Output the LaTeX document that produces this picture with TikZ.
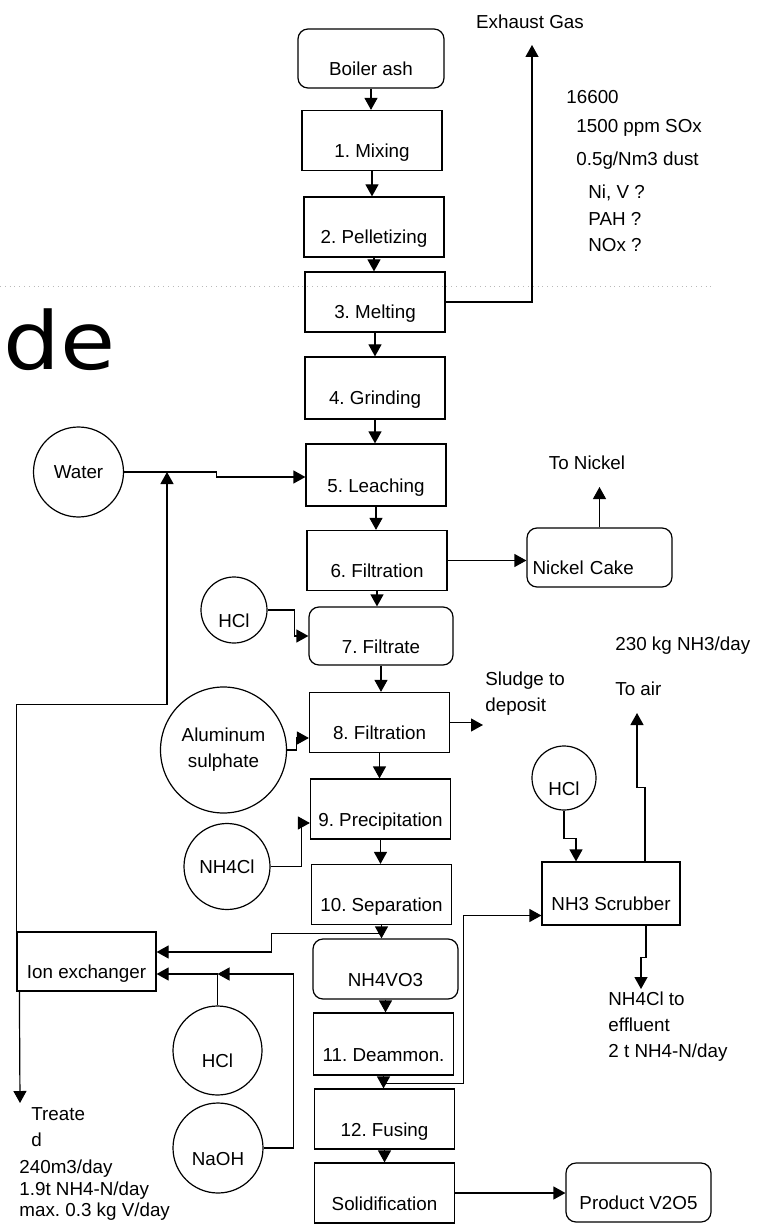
\documentclass[tikz,border=0pt]{standalone}
\usepackage{fontspec}
\setmainfont{Liberation Sans}
\newfontfamily\titlefont{DejaVu Sans}
\usetikzlibrary{arrows.meta}
\tikzset{
  proc/.style={draw, line width=0.6pt, minimum width=70pt, minimum height=30pt,
               inner sep=0pt, text height=18pt, text depth=1pt},
  procr/.style={proc, rounded corners=5pt},
  feed/.style={draw, circle, line width=0.6pt, inner sep=0pt, align=center},
  feedlow/.style={feed, text height=18pt, text depth=1pt},
  flow/.style={-{Triangle[length=6pt,width=6.5pt]}, line width=0.6pt},
  pipe/.style={line width=0.6pt},
  note/.style={inner sep=0pt, align=left},
}
\begin{document}
\frenchspacing
\begin{tikzpicture}[x=0.5pt, y=-0.5pt, font=\fontsize{9.4}{13}\selectfont]
  \useasboundingbox (0,0) rectangle (764,1224);
  \draw[gray!55, dotted, line width=0.4pt] (0,286) -- (712,286);
  \node[note, anchor=base west, font=\titlefont\fontsize{40}{40}\selectfont] (de) at (3,370) {\scalebox{1.12}[1]{de}};

  \node[procr, minimum width=73pt, minimum height=29.5pt] (ash) at (371,58.5) {Boiler ash};
  \node[proc] (mix) at (372,140.5) {1. Mixing};
  \node[proc] (pel) at (374,227) {2. Pelletizing};
  \node[proc] (melt) at (375,302) {3. Melting};
  \node[proc, minimum height=31pt] (grind) at (375,388) {4. Grinding};
  \node[proc, minimum height=31pt] (leach) at (376,475) {5. Leaching};
  \node[proc] (filt6) at (377,560.5) {6. Filtration};
  \node[procr, minimum width=72pt, minimum height=29pt] (filtrate) at (381,636) {7. Filtrate};
  \node[proc] (filt8) at (379.5,722.5) {8. Filtration};
  \node[proc] (precip) at (380.5,809) {9. Precipitation};
  \node[proc] (sep) at (381.5,894.5) {10. Separation};
  \node[procr, minimum width=72.5pt] (vo3) at (385.5,969) {NH4VO3};
  \node[proc, minimum height=31pt] (deam) at (383.5,1044) {11. Deammon.};
  \node[proc] (fuse) at (384.5,1119) {12. Fusing};
  \node[proc] (solid) at (384.5,1193) {Solidification};

  \node[procr, minimum width=72.5pt, minimum height=29.5pt, text width=67pt, align=left] (nickel) at (599.5,557.5) {Nickel Cake};
  \node[proc, minimum width=69pt, minimum height=31.5pt] (scrub) at (611,893.5) {NH3 Scrubber};
  \node[procr, minimum width=72.5pt, minimum height=29.5pt] (product) at (638.5,1192.5) {Product V2O5};
  \node[proc, minimum width=69.5pt, minimum height=29.5pt] (ion) at (86.5,961.5) {Ion exchanger};

  \node[feed, minimum size=45pt] (water) at (78.5,472) {Water};
  \node[feedlow, minimum size=33pt] (hcla) at (234,610) {HCl};
  \node[feed, minimum size=63pt] (alum) at (223.5,750) {Aluminum\\sulphate};
  \node[feed, minimum size=43pt] (nhcl) at (227,866.5) {NH4Cl};
  \node[feedlow, minimum size=32pt] (hclb) at (564,778) {HCl};
  \node[feedlow, minimum size=44.5pt] (hclc) at (217.5,1050.5) {HCl};
  \node[feedlow, minimum size=45pt] (naoh) at (218,1148) {NaOH};

  \node[note] (gas) at (530,22) {Exhaust Gas};
  \node[note, anchor=west] (gasvol) at (566,97) {16600};
  \node[note, anchor=west] (gasso) at (576,128) {1500 ppm SOx};
  \node[note, anchor=west] (gasdust) at (576,161) {0.5g/Nm3 dust};
  \node[note, anchor=west] (gasni) at (588,193) {Ni, V ?};
  \node[note, anchor=west] (gaspah) at (588,219) {PAH ?};
  \node[note, anchor=west] (gasnox) at (588,245) {NOx ?};
  \node[note] (nitxt) at (587,463) {To Nickel};
  \node[note, anchor=west] (sludgetxt) at (485,694) {Sludge to\\deposit};
  \node[note, anchor=west] (nh3txt) at (615,646) {230 kg NH3/day};
  \node[note, anchor=west] (airtxt) at (615,689) {To air};
  \node[note, anchor=west] (efftxt) at (608,1027) {NH4Cl to\\effluent\\2 t NH4-N/day};
  \node[note, anchor=west] (treattxt) at (31,1127.5) {Treate\\d};
  \node[note, anchor=west, font=\fontsize{9.4}{10.8}\selectfont] (treatdat) at (19,1190.5) {240m3/day\\1.9t NH4-N/day\\max. 0.3 kg V/day};

  \coordinate (gasout) at (532,45);
  \coordinate (niout) at (599.5,487);
  \coordinate (wjoin) at (167,472);
  \coordinate (sludgeout) at (483,725);
  \coordinate (airout) at (637,713);
  \coordinate (effout) at (641,989);
  \coordinate (treatout) at (20,1103);
  \coordinate (hclj) at (217.5,974);

  \draw[flow] (ash.south) -- (ash.south |- mix.north);
  \draw[flow] (mix.south) -- (mix.south |- pel.north);
  \draw[flow] (pel.south) -- (pel.south |- melt.north);
  \draw[flow] (melt.south) -- (melt.south |- grind.north);
  \draw[flow] (grind.south) -- (grind.south |- leach.north);
  \draw[flow] (leach.south) -- (leach.south |- filt6.north);
  \draw[flow] (filt6.south) -- (filt6.south |- filtrate.north);
  \draw[flow] (filtrate.south) -- (filtrate.south |- filt8.north);
  \draw[flow] (filt8.south) -- (filt8.south |- precip.north);
  \draw[flow] (precip.south) -- (precip.south |- sep.north);
  \draw[flow] (sep.south) -- (sep.south |- vo3.north);
  \draw[flow] (vo3.south) -- (vo3.south |- deam.north);
  \draw[flow] (deam.south) -- (deam.south |- fuse.north);
  \draw[flow] (fuse.south) -- (fuse.south |- solid.north);
  \draw[flow] (solid.east) -- (solid.east -| product.west);

  \draw[flow] (melt.east) -| (gasout);
  \draw[flow] (filt6.east) -- (filt6.east -| nickel.west);
  \draw[flow] (nickel.north) -- (niout);
  \draw[flow] (water.east) -- ++(92,0) |- ([yshift=-1pt]leach.west);
  \draw[flow] (ion.north west) -- ++(0,-227) -| (wjoin);
  \draw[flow] ([xshift=1.5pt]ion.south west) -- (treatout);
  \draw[flow] (hcla.east) -- ++(27,0) |- (filtrate.west);
  \draw[flow] (alum.east) -- ++(9,0) |- ([yshift=-7.75pt]filt8.west);
  \draw[flow] (nhcl.east) -- ++(31,0) |- ([yshift=-7pt]precip.west);
  \draw[flow] (filt8.east) -- ++(21,0) |- (sludgeout);
  \draw[flow] ([yshift=-4pt]sep.south) -- ++(-110,0) |- ([yshift=4.75pt]ion.east);
  \draw[flow] (naoh.east) -- ++(30,0) |- (hclj);
  \draw[pipe] (hclc.north) -- (hclj);
  \draw[flow] (hclj) -- ([yshift=-6.25pt]ion.east);
  \draw[flow] ([yshift=-4pt]deam.south) -- ++(80,0) |- ([yshift=-11pt]scrub.west);
  \draw[flow] (hclb.south) -- ++(0,28) -| ([xshift=-17.5pt]scrub.north);
  \draw[flow] ([xshift=17pt]scrub.north) -- ++(0,-74) -| (airout);
  \draw[flow] ([xshift=17.5pt]scrub.south) -- ++(0,32) -| (effout);
\end{tikzpicture}
\end{document}
